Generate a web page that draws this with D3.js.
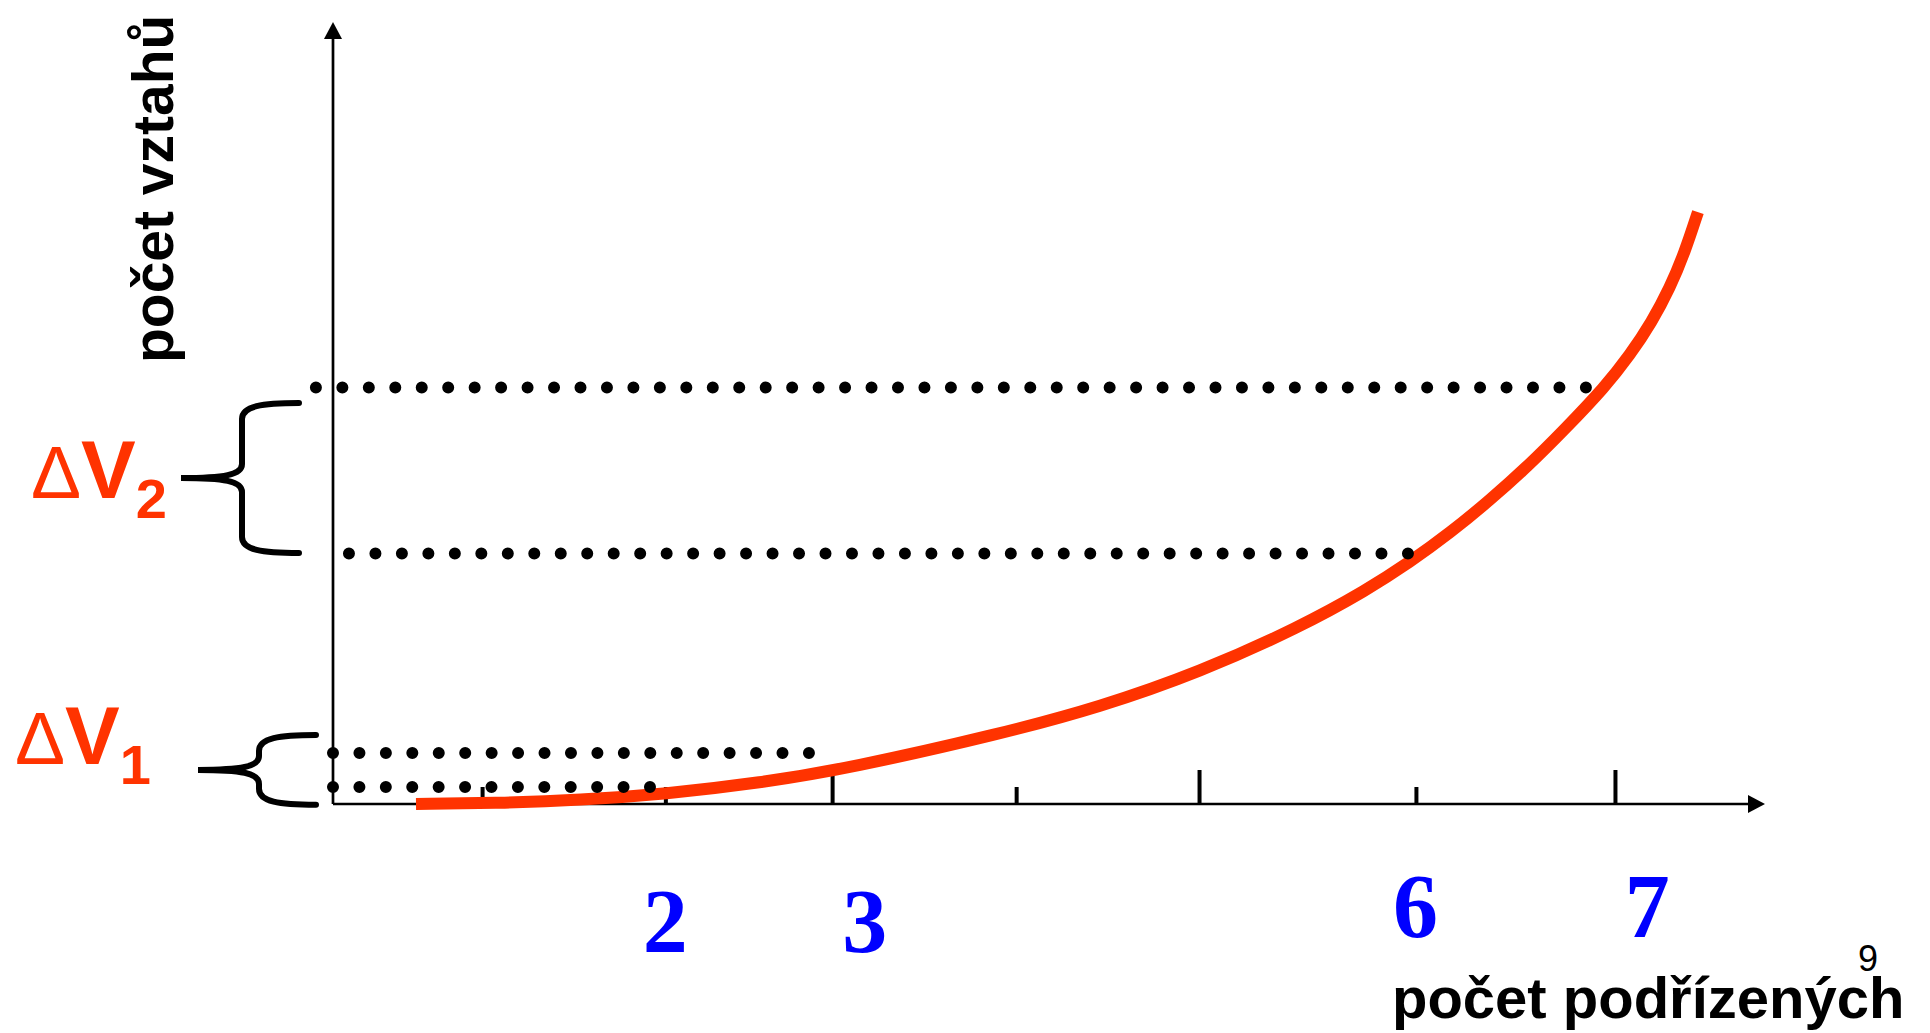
<!DOCTYPE html>
<html>
<head>
<meta charset="utf-8">
<script src="https://cdn.jsdelivr.net/npm/d3@7"></script>
<style>
  body { margin: 0; background: #fff; }
  svg { display: block; }
</style>
</head>
<body>
<div id="chart"></div>
<script>
// values (x = počet podřízených, y = počet vztahů, arbitrary units)
var curveN = [0.687, 1.129, 1.55, 1.998, 2.498, 2.972, 3.762, 4.288, 4.815, 5.341, 5.694, 5.921, 6.131, 6.342, 6.537, 6.737, 6.947, 7.079, 7.194, 7.289, 7.368, 7.437];
var curveV = [0, 0.13, 0.51, 1.28, 2.69, 4.6, 8.95, 12.4, 16.88, 22.63, 27.37, 30.95, 34.65, 38.87, 43.09, 47.95, 53.32, 57.42, 61.64, 65.98, 70.59, 75.7];

// dotted guide lines
var dotRowY = [53.26, 32.03, 6.52, 2.17];
var dotRowFrom = [0.16, 0.334, 0.25, 0.25];
var dotRowTo = [6.847, 5.91, 2.756, 1.919];

// braces (ΔV)
var braceName = ['2', '1'];
var braceFrom = [32.1, -0.1];
var braceTo = [51.28, 8.82];

// x ticks and labels
var minorTicks = [1.035, 2.0, 3.847, 5.952];
var majorTicks = [2.878, 4.81, 7.0];
var xLabelText = ['2', '3', '6', '7'];
var xLabelAt = [2.0, 3.05, 5.95, 7.17];

var width = 1930, height = 1033;
var red = '#ff3300';

var svg = d3.select('#chart').append('svg')
    .attr('width', width)
    .attr('height', height);

var x = d3.scaleLinear().domain([0.25, 7.79]).range([333, 1765]);
var y = d3.scaleLinear().domain([0, 100]).range([804, 22]);

// arrow heads
var defs = svg.append('defs');
defs.append('marker')
    .attr('id', 'arrow')
    .attr('markerUnits', 'userSpaceOnUse')
    .attr('viewBox', '0 0 17 18')
    .attr('markerWidth', 17)
    .attr('markerHeight', 18)
    .attr('refX', 9)
    .attr('refY', 9)
    .attr('orient', 'auto')
  .append('path')
    .attr('d', 'M0,0 L17,9 L0,18 Z')
    .attr('fill', '#000');

// axes lines
svg.append('line')
    .attr('x1', x(0.25)).attr('y1', y(0))
    .attr('x2', x.range()[1] - 8).attr('y2', y(0))
    .attr('stroke', '#000').attr('stroke-width', 2.7)
    .attr('marker-end', 'url(#arrow)');

svg.append('line')
    .attr('x1', x(0.25)).attr('y1', y(0))
    .attr('x2', x(0.25)).attr('y2', y.range()[1] + 8)
    .attr('stroke', '#000').attr('stroke-width', 2.7)
    .attr('marker-end', 'url(#arrow)');

// ticks pointing up, two lengths
var minorAxis = d3.axisBottom(x).tickValues(minorTicks).tickSize(-17).tickFormat('');
var majorAxis = d3.axisBottom(x).tickValues(majorTicks).tickSize(-34).tickFormat('');

[minorAxis, majorAxis].forEach(function (ax) {
    var g = svg.append('g')
        .attr('class', 'axis')
        .attr('transform', 'translate(0,' + y(0) + ')')
        .call(ax);
    g.select('.domain').remove();
    g.selectAll('.tick line').attr('stroke', '#000').attr('stroke-width', 4);
});

// red curve
var line = d3.line()
    .x(function (d) { return x(d[0]); })
    .y(function (d) { return y(d[1]); })
    .curve(d3.curveBasis);

svg.append('path')
    .datum(d3.zip(curveN, curveV))
    .attr('d', line)
    .attr('fill', 'none')
    .attr('stroke', red)
    .attr('stroke-width', 12);

// dotted lines: zero-length dashes with round caps
dotRowY.forEach(function (v, i) {
    var x1 = x(dotRowFrom[i]), x2 = x(dotRowTo[i]);
    var len = x2 - x1;
    var gap = len / Math.round(len / 26.46);
    svg.append('line')
        .attr('x1', x1).attr('x2', x2 + 0.5)
        .attr('y1', y(v)).attr('y2', y(v))
        .attr('stroke', '#000')
        .attr('stroke-width', 12)
        .attr('stroke-linecap', 'round')
        .attr('stroke-dasharray', '0 ' + gap);
});

// braces with ΔV labels
var axisX = x(0.25);
braceName.forEach(function (name, i) {
    var shift = i === 0 ? 0 : 17;
    var xEnd = axisX - 34 + shift, xBar = axisX - 91 + shift, xTip = axisX - 152 + shift;
    var yTop = y(braceTo[i]), yBot = y(braceFrom[i]);
    var yMid = (yTop + yBot) / 2;
    var p = d3.path();
    p.moveTo(xEnd, yTop);
    p.bezierCurveTo(xBar + 20, yTop, xBar, yTop + 3, xBar, yTop + 16);
    p.lineTo(xBar, yMid - 14);
    p.bezierCurveTo(xBar, yMid - 3, xBar - 18, yMid, xTip, yMid);
    p.bezierCurveTo(xBar - 18, yMid, xBar, yMid + 3, xBar, yMid + 14);
    p.lineTo(xBar, yBot - 16);
    p.bezierCurveTo(xBar, yBot - 3, xBar + 20, yBot, xEnd, yBot);
    svg.append('path')
        .attr('d', p.toString())
        .attr('fill', 'none')
        .attr('stroke', '#000')
        .attr('stroke-width', 6)
        .attr('stroke-linecap', 'round');

    var t = svg.append('text')
        .attr('x', i === 0 ? 31 : 15)
        .attr('y', i === 0 ? yMid + 20 : yMid - 6)
        .attr('fill', red)
        .style('font-family', 'Liberation Sans, Arial, sans-serif');
    t.append('tspan').text('Δ').style('font-size', '75px');
    t.append('tspan').text('V').style('font-size', '82px').style('font-weight', 'bold');
    t.append('tspan').text(name).attr('dy', 20).style('font-size', '56px').style('font-weight', 'bold');
});

// blue numbers under the axis
svg.selectAll('.xlab')
    .data(xLabelText)
    .enter()
    .append('text')
    .attr('class', 'xlab')
    .attr('x', function (d, i) { return x(xLabelAt[i]); })
    .attr('y', function (d) { return y(0) + (+d > 5 ? 133 : 148); })
    .attr('text-anchor', 'middle')
    .attr('fill', '#0000ff')
    .style('font-family', 'Liberation Serif, Times New Roman, serif')
    .style('font-weight', 'bold')
    .style('font-size', '90px')
    .text(function (d) { return d; });

// axis titles
svg.append('text')
    .attr('transform', 'translate(173,363) rotate(-90)')
    .style('font-family', 'Liberation Sans, Arial, sans-serif')
    .style('font-weight', 'bold')
    .style('font-size', '57px')
    .text('počet vztahů');

svg.append('text')
    .attr('x', 1392)
    .attr('y', 1018)
    .style('font-family', 'Liberation Sans, Arial, sans-serif')
    .style('font-weight', 'bold')
    .style('font-size', '58px')
    .text('počet podřízených');

// page number
svg.append('text')
    .attr('x', 1868)
    .attr('y', 971)
    .attr('text-anchor', 'middle')
    .style('font-family', 'Liberation Sans, Arial, sans-serif')
    .style('font-size', '36px')
    .text('9');
</script>
</body>
</html>
